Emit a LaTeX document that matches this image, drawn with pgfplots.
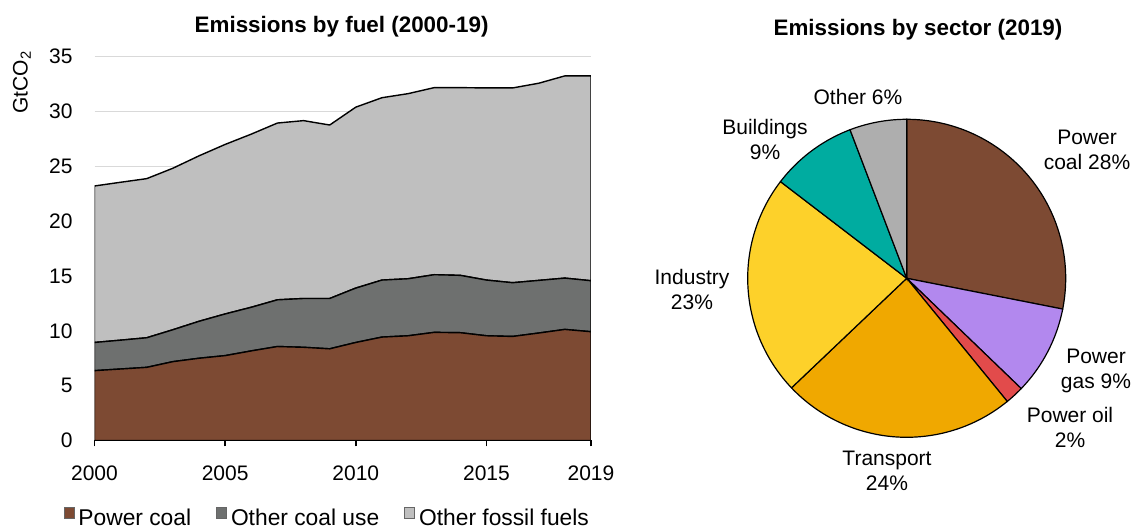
\documentclass[border=0pt]{standalone}
\usepackage{fontspec}
\setmainfont{Liberation Sans}
\usepackage{pgfplots}
\usepackage{pgfplotstable}
\pgfplotsset{compat=1.18}

\definecolor{pcoal}{HTML}{7D4A33}
\definecolor{ocoal}{HTML}{6E706F}
\definecolor{ofoss}{HTML}{BFBFBF}
\definecolor{pgas}{HTML}{B288EE}
\definecolor{poil}{HTML}{E24B4B}
\definecolor{transp}{HTML}{F0A800}
\definecolor{indus}{HTML}{FDD12A}
\definecolor{build}{HTML}{00ACA0}
\definecolor{othr}{HTML}{AEAEAE}
\definecolor{gridc}{HTML}{D9D9D9}

% GtCO2 by fuel
\pgfplotstableread{
year pc    oc   of
2000 6.37  2.57 14.27
2001 6.52  2.63 14.40
2002 6.67  2.70 14.51
2003 7.19  2.91 14.73
2004 7.50  3.37 15.09
2005 7.74  3.80 15.46
2006 8.17  3.98 15.79
2007 8.57  4.26 16.12
2008 8.50  4.45 16.22
2009 8.36  4.59 15.82
2010 8.94  4.96 16.50
2011 9.43  5.20 16.63
2012 9.55  5.20 16.88
2013 9.86  5.26 17.06
2014 9.83  5.23 17.12
2015 9.55  5.08 17.52
2016 9.49  4.90 17.76
2017 9.80  4.80 17.98
2018 10.13 4.68 18.44
2019 9.92  4.65 18.68
}\fueldata

% sector shares 2019 (%), clockwise from 12 o'clock
\pgfmathsetmacro\aA{90}
\pgfmathsetmacro\aB{\aA-3.6*28.1}% power coal
\pgfmathsetmacro\aC{\aB-3.6*9.1}% power gas
\pgfmathsetmacro\aD{\aC-3.6*1.9}% power oil
\pgfmathsetmacro\aE{\aD-3.6*23.8}% transport
\pgfmathsetmacro\aF{\aE-3.6*22.5}% industry
\pgfmathsetmacro\aG{\aF-3.6*8.8}% buildings
\pgfmathsetmacro\aH{\aG-3.6*5.8}% other

\newcommand\piewedge[3]{%
  \addplot[fill=#1, draw=black, line width=0.6pt, variable=\t,
    domain=#2:#3, samples=90] ({cos(\t)},{sin(\t)}) -- (0,0) -- cycle;}

\newcommand\lbl{\fontsize{10.5}{12.5}\selectfont}
\newcommand\ttl{\fontsize{11.2}{13}\selectfont\bfseries}

\begin{document}
\begin{tikzpicture}
\begin{axis}[
  at={(47.25pt,44.25pt)}, anchor=south west,
  scale only axis, width=248.25pt, height=191.9pt,
  xmin=2000, xmax=2019, ymin=0, ymax=35,
  stack plots=y, area style, axis on top=false,
  separate axis lines,
  axis x line*=bottom, axis y line*=left,
  y axis line style={draw=none},
  x axis line style={line width=1pt},
  xtick={2000,2005,2010,2015,2019},
  ytick={0,5,...,35},
  ytick style={draw=none},
  xtick style={black, line width=0.8pt},
  tick align=outside, major tick length=3pt,
  ymajorgrids, grid style={gridc, line width=0.7pt},
  /pgf/number format/assume math mode=true,
  /pgf/number format/1000 sep={},
  tick label style={font=\lbl},
  yticklabel style={xshift=-4.5pt},
  xticklabel style={yshift=-6pt},
  legend columns=3,
  legend style={at={(-0.0622,-0.2005)}, anchor=west, draw=none, fill=none,
    inner sep=0pt, outer sep=0pt, font=\fontsize{11.4}{13}\selectfont,
    nodes={inner sep=0pt},
    /tikz/every odd column/.append style={column sep=2pt},
    /tikz/every even column/.append style={column sep=12.5pt}},
  legend image code/.code={\draw[#1, draw=black!60, line width=0.4pt] (0pt,0pt) rectangle (5pt,5.5pt);},
]
\addplot[fill=pcoal, draw=black, line width=0.7pt] table[x=year, y=pc]{\fueldata} \closedcycle;
\addplot[fill=ocoal, draw=black, line width=0.7pt] table[x=year, y=oc]{\fueldata} \closedcycle;
\addplot[fill=ofoss, draw=black, line width=0.7pt] table[x=year, y=of]{\fueldata} \closedcycle;
\legend{Power coal, Other coal use, Other fossil fuels}
\end{axis}

\begin{axis}[
  at={(453.35pt,125.35pt)}, anchor=center,
  x=79.5pt, y=79.5pt,
  xmin=-1.1, xmax=1.1, ymin=-1.1, ymax=1.1,
  hide axis, clip=false,
]
\piewedge{pcoal}{\aB}{\aA}
\piewedge{pgas}{\aC}{\aB}
\piewedge{poil}{\aD}{\aC}
\piewedge{transp}{\aE}{\aD}
\piewedge{indus}{\aF}{\aE}
\piewedge{build}{\aG}{\aF}
\piewedge{othr}{\aH}{\aG}
\end{axis}

\node[font=\ttl] at (170.8pt,251pt) {Emissions by fuel (2000-19)};
\node[font=\ttl] at (459pt,249.5pt) {Emissions by sector (2019)};
\node[font=\lbl, rotate=90] at (11pt,223.5pt) {GtCO\textsubscript{2}};

\node[font=\lbl, align=center] at (543.5pt,189.5pt) {Power\\coal 28\%};
\node[font=\lbl, align=center] at (548pt,79pt) {Power\\gas 9\%};
\node[font=\lbl, align=center] at (535pt,51pt) {Power oil\\2\%};
\node[font=\lbl, align=center] at (443.5pt,29pt) {Transport\\24\%};
\node[font=\lbl, align=center] at (346pt,119.75pt) {Industry\\23\%};
\node[font=\lbl, align=center] at (382.5pt,194.75pt) {Buildings\\9\%};
\node[font=\lbl] at (429pt,216pt) {Other 6\%};

\pgfresetboundingbox
\useasboundingbox (0,0) rectangle (567.5pt,264.5pt);
\end{tikzpicture}
\end{document}
